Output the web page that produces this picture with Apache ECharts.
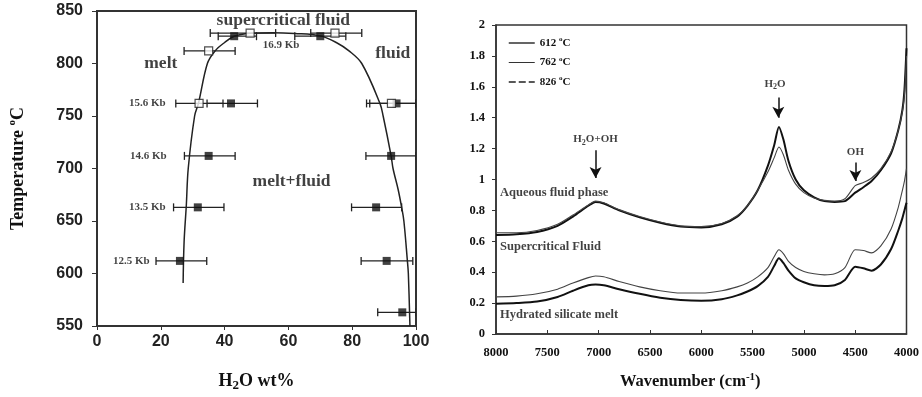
<!DOCTYPE html>
<html>
<head>
<meta charset="utf-8">
<script src="https://cdn.jsdelivr.net/npm/echarts@6.0.0/dist/echarts.min.js"></script>
<style>
  html, body { margin: 0; padding: 0; background: #fff; }
  #chart { width: 922px; height: 397px; }
</style>
</head>
<body>
<div id="chart"></div>
<script>
// ---- left panel: H2O wt% vs temperature ----
const solvusCurve = [[27,591],[27.3,630],[28,665],[28.6,700],[30.6,750],[31.8,762],[34.6,800],[37,812],[40,820],[43,826],[48,828.8],[55,829.4],[62,828.6],[70,826.3],[75,820],[79,812],[83,800],[88.7,762],[89.7,750],[92.2,712],[92.8,700],[94.4,680],[95.5,663],[96.2,650],[97.3,612],[97.6,600],[98.1,550]]
// [wt%, T, err low, err high]
const filledPoints = [[43,826,38,50],[70,826,62,78],[42,762,34.5,50.3],[93.9,762,85.5,100],[35,712,27.4,43.3],[92.2,712,84.3,100],[31.6,663,24,39.8],[87.5,663,79.8,95.5],[26,612,18.5,34.4],[90.8,612,82.8,99],[95.7,563,88,100]]
const openPoints = [[48,829,35.5,56],[74.6,829,67,83],[35,812,27.3,43.3],[32,762,24.7,39.5],[92.3,762,84.5,100]]
const pressureLabels = [[22.3,762,'15.6 Kb'],[22.6,712,'14.6 Kb'],[22.3,663,'13.5 Kb'],[17.3,612,'12.5 Kb']]
const smallLabels = [[57.7,817,'16.9 Kb']]
const regionLabels = [[58.4,841,'supercritical fluid'],[20,800,'melt'],[92.7,810,'fluid'],[61,688,'melt+fluid']]

// ---- right panel: spectra ----
const wavenumbers = [8000,7800,7600,7400,7250,7100,7030,6950,6800,6600,6400,6200,6000,5800,5650,5550,5450,5350,5290,5243,5200,5150,5080,5000,4900,4800,4700,4600,4500,4420,4340,4250,4150,4080,4040,4020,4000]
const fluid612 = [0.64,0.645,0.66,0.70,0.76,0.83,0.855,0.845,0.80,0.755,0.72,0.695,0.69,0.71,0.76,0.83,0.93,1.09,1.22,1.34,1.26,1.12,1.0,0.93,0.885,0.86,0.855,0.86,0.915,0.95,0.99,1.06,1.17,1.32,1.45,1.58,1.85]
const fluid762 = [0.655,0.655,0.67,0.71,0.77,0.835,0.86,0.85,0.805,0.76,0.725,0.70,0.695,0.715,0.765,0.83,0.93,1.05,1.14,1.21,1.16,1.06,0.97,0.915,0.88,0.865,0.86,0.875,0.96,0.98,1.01,1.07,1.18,1.32,1.44,1.55,1.80]
const superCrit = [0.24,0.245,0.26,0.29,0.33,0.365,0.375,0.37,0.34,0.305,0.28,0.265,0.265,0.28,0.305,0.33,0.37,0.43,0.50,0.545,0.52,0.47,0.43,0.405,0.39,0.383,0.39,0.43,0.545,0.54,0.525,0.57,0.68,0.82,0.93,0.99,1.07]
const meltCurve = [0.195,0.20,0.21,0.24,0.28,0.315,0.32,0.315,0.29,0.26,0.235,0.22,0.215,0.225,0.25,0.275,0.31,0.37,0.44,0.49,0.46,0.41,0.36,0.335,0.315,0.31,0.315,0.35,0.435,0.425,0.41,0.45,0.55,0.67,0.75,0.80,0.85]
const peakLabels = [[7030,1.26,'H2O+OH'],[5281,1.62,'H2O'],[4498,1.18,'OH']]
const arrows = [[7030,1.19,1.01],[5249,1.53,1.40],[4498,1.11,0.99]]
const phaseLabels = [[7985,0.915,'Aqueous fluid phase'],[7985,0.565,'Supercritical Fluid'],[7985,0.123,'Hydrated silicate melt']]

const serif = '"Liberation Serif", "DejaVu Serif", serif'
const sans = '"Liberation Sans", Arial, sans-serif'
const ink = '#111'

function pair(xs, ys) {
  return xs.map((x, i) => [x, ys[i]])
}
function chem(s) {
  // H2O -> H with subscript 2
  return s.split('H2O').map(p => p ? '{t|' + p + '}' : '').join('{t|H}{b|2}{t|O}')
}

const chemRich = (size) => ({
  t: {fontFamily: serif, fontWeight: 'bold', fontSize: size, color: ink, lineHeight: size + 4},
  b: {fontFamily: serif, fontWeight: 'bold', fontSize: Math.round(size * 0.7), color: ink, verticalAlign: 'bottom', lineHeight: size + 4}
})

function errorBarItem(params, api) {
  const y = api.value(1)
  const a = api.coord([api.value(2), y])
  const b = api.coord([api.value(3), y])
  const cap = 4
  const st = {stroke: '#222', lineWidth: 1.3}
  return {
    type: 'group',
    children: [
      {type: 'line', shape: {x1: a[0], y1: a[1], x2: b[0], y2: b[1]}, style: st},
      {type: 'line', shape: {x1: a[0], y1: a[1] - cap, x2: a[0], y2: a[1] + cap}, style: st},
      {type: 'line', shape: {x1: b[0], y1: b[1] - cap, x2: b[0], y2: b[1] + cap}, style: st}
    ]
  }
}

function noteSeries(name, xi, yi, data, position, size) {
  return {
    name: name,
    type: 'scatter',
    xAxisIndex: xi,
    yAxisIndex: yi,
    symbolSize: 1,
    itemStyle: {color: 'rgba(0,0,0,0)'},
    silent: true,
    data: data,
    label: {show: true, position: position, distance: 2, formatter: p => chem(p.data[2]), rich: chemRich(size)},
    z: 10
  }
}

const chart = echarts.init(document.getElementById('chart'), null, {renderer: 'canvas'})

const option = {
  animation: false,
  backgroundColor: '#fff',
  grid: [
    {left: 97, top: 11, width: 319, height: 316, show: true, borderColor: '#333', borderWidth: 2},
    {left: 496, top: 25, width: 412, height: 309, show: true, borderColor: '#333', borderWidth: 1.5}
  ],
  legend: {
    left: 503,
    top: 31,
    orient: 'vertical',
    itemWidth: 26,
    itemHeight: 12,
    itemGap: 7,
    selectedMode: false,
    itemStyle: {opacity: 0},
    data: [
      {name: '612', lineStyle: {width: 1.3, color: '#111'}},
      {name: '762', lineStyle: {width: 1, color: '#333'}},
      {name: '826', lineStyle: {type: [7, 3], width: 1.5, color: '#222'}}
    ],
    formatter: n => '{a|' + n + ' }{s|o}{a|C}',
    textStyle: {
      rich: {
        a: {fontFamily: serif, fontWeight: 'bold', fontSize: 11, color: ink, lineHeight: 14},
        s: {fontFamily: serif, fontWeight: 'bold', fontSize: 7, color: ink, verticalAlign: 'top', lineHeight: 10}
      }
    }
  },
  xAxis: [
    {
      gridIndex: 0, type: 'value', min: 0, max: 100, interval: 20,
      splitLine: {show: false},
      axisLine: {lineStyle: {color: '#333', width: 2}},
      axisTick: {show: true, length: 4, lineStyle: {color: '#333'}},
      axisLabel: {fontFamily: sans, fontWeight: 'bold', fontSize: 16, color: '#222', margin: 8},
      name: '{t|H}{b|2}{t|O wt%}',
      nameLocation: 'middle',
      nameGap: 44,
      nameTextStyle: {rich: chemRich(18)}
    },
    {
      gridIndex: 1, type: 'value', min: 4000, max: 8000, interval: 500, inverse: true,
      splitLine: {show: false},
      axisLine: {lineStyle: {color: '#333', width: 1.5}},
      axisTick: {show: true, inside: true, length: 4, lineStyle: {color: '#333'}},
      axisLabel: {fontFamily: serif, fontWeight: 'bold', fontSize: 12.5, color: ink, margin: 12, formatter: v => String(v)},
      name: '{t|Wavenumber (cm}{p|-1}{t|)}',
      nameLocation: 'middle',
      nameGap: 38,
      nameTextStyle: {
        padding: [0, 22, 0, 0],
        rich: {
          t: {fontFamily: serif, fontWeight: 'bold', fontSize: 16.5, color: ink, lineHeight: 20},
          p: {fontFamily: serif, fontWeight: 'bold', fontSize: 11, color: ink, verticalAlign: 'top', lineHeight: 12}
        }
      }
    }
  ],
  yAxis: [
    {
      gridIndex: 0, type: 'value', min: 550, max: 850, interval: 50,
      splitLine: {show: false},
      axisLine: {lineStyle: {color: '#333', width: 2}},
      axisTick: {show: true, length: 5, lineStyle: {color: '#333'}},
      axisLabel: {fontFamily: sans, fontWeight: 'bold', fontSize: 16, color: '#222', margin: 14},
      name: '{t|Temperature }{p|o}{t|C}',
      nameLocation: 'middle',
      nameGap: 68,
      nameTextStyle: {
        rich: {
          t: {fontFamily: serif, fontWeight: 'bold', fontSize: 18, color: ink, lineHeight: 22},
          p: {fontFamily: serif, fontWeight: 'bold', fontSize: 11, color: ink, verticalAlign: 'top', lineHeight: 13}
        }
      }
    },
    {
      gridIndex: 1, type: 'value', min: 0, max: 2, interval: 0.2,
      splitLine: {show: false},
      axisLine: {lineStyle: {color: '#333', width: 1.5}},
      axisTick: {show: true, length: 4, lineStyle: {color: '#333'}},
      axisLabel: {fontFamily: serif, fontWeight: 'bold', fontSize: 12.5, color: ink, margin: 11}
    }
  ],
  series: [
    {
      name: 'solvus', type: 'line', xAxisIndex: 0, yAxisIndex: 0,
      data: solvusCurve, smooth: 0.35, symbol: 'none',
      lineStyle: {color: '#222', width: 1.5}, silent: true
    },
    {
      name: 'err filled', type: 'custom', xAxisIndex: 0, yAxisIndex: 0,
      data: filledPoints, renderItem: errorBarItem, clip: true, silent: true
    },
    {
      name: 'err open', type: 'custom', xAxisIndex: 0, yAxisIndex: 0,
      data: openPoints, renderItem: errorBarItem, clip: true, silent: true
    },
    {
      name: 'filled', type: 'scatter', xAxisIndex: 0, yAxisIndex: 0,
      data: filledPoints.map(d => [d[0], d[1]]), symbol: 'rect', symbolSize: 8,
      itemStyle: {color: '#111'}, z: 5
    },
    {
      name: 'open', type: 'scatter', xAxisIndex: 0, yAxisIndex: 0,
      data: openPoints.map(d => [d[0], d[1]]), symbol: 'rect', symbolSize: 8,
      itemStyle: {color: '#fff', borderColor: '#222', borderWidth: 1.2}, z: 5
    },
    noteSeries('kb', 0, 0, pressureLabels, 'left', 11),
    noteSeries('kb2', 0, 0, smallLabels, 'inside', 11),
    noteSeries('regions', 0, 0, regionLabels, 'inside', 17.5),

    {
      name: '612', type: 'line', xAxisIndex: 1, yAxisIndex: 1,
      data: pair(wavenumbers, fluid612), smooth: 0.25, symbol: 'none',
      itemStyle: {color: '#111'},
      lineStyle: {color: '#111', width: 2}, silent: true
    },
    {
      name: '762', type: 'line', xAxisIndex: 1, yAxisIndex: 1,
      data: pair(wavenumbers, fluid762), smooth: 0.25, symbol: 'none',
      itemStyle: {color: '#444'},
      lineStyle: {color: '#444', width: 1.1}, silent: true
    },
    {
      name: '826', type: 'line', xAxisIndex: 1, yAxisIndex: 1,
      data: pair(wavenumbers, superCrit), smooth: 0.25, symbol: 'none',
      itemStyle: {color: '#444'},
      lineStyle: {color: '#444', width: 1.1}, silent: true
    },
    {
      name: '612', type: 'line', xAxisIndex: 1, yAxisIndex: 1,
      data: pair(wavenumbers, meltCurve), smooth: 0.25, symbol: 'none',
      itemStyle: {color: '#111'},
      lineStyle: {color: '#111', width: 2}, silent: true
    },
    Object.assign(
      noteSeries('peaks', 1, 1, peakLabels, 'inside', 11),
      {
        markLine: {
          silent: true,
          symbol: ['none', 'arrow'],
          symbolSize: [9, 11],
          label: {show: false},
          lineStyle: {color: '#111', width: 1.5, type: 'solid'},
          data: arrows.map(a => [{coord: [a[0], a[1]]}, {coord: [a[0], a[2]]}])
        }
      }
    ),
    noteSeries('phases', 1, 1, phaseLabels, 'right', 12.5)
  ]
}

chart.setOption(option)
</script>
</body>
</html>
